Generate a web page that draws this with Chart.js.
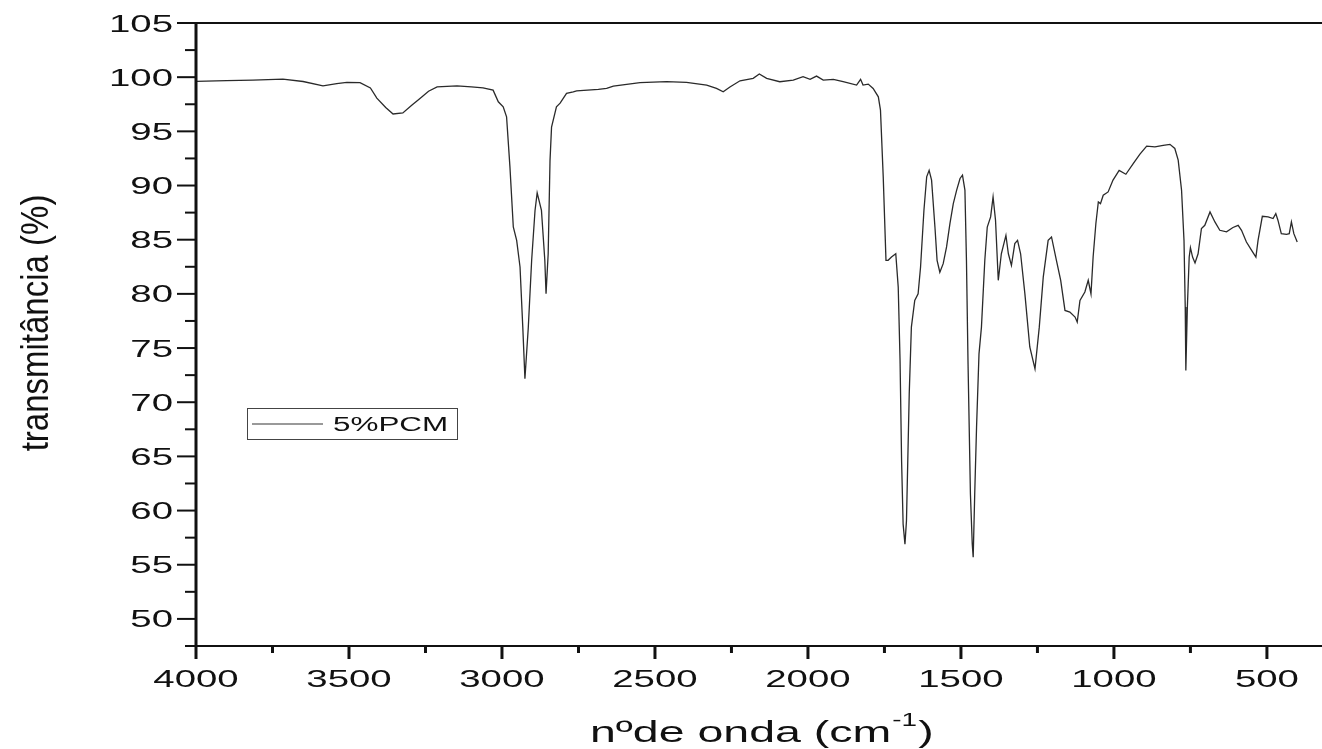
<!DOCTYPE html>
<html>
<head>
<meta charset="utf-8">
<script src="https://cdn.jsdelivr.net/npm/chart.js@4.4.1/dist/chart.umd.min.js"></script>
<style>
  html, body { margin: 0; padding: 0; background: #fff; }
  canvas { display: block; }
</style>
</head>
<body>
<canvas id="ir-chart" width="1322" height="749"></canvas>
<script>
// wavenumber (cm-1), high to low
const wavenumber = [
    4000, 3900, 3814, 3716, 3650, 3585, 3540, 3507, 3464, 3430, 3409, 3380, 3356, 3324, 3295, 3268,
    3240, 3212, 3147, 3100, 3062, 3029, 3012, 2996, 2985, 2974, 2963, 2952, 2941, 2932, 2925, 2914,
    2903, 2892, 2885, 2871, 2860, 2856, 2849, 2843, 2838, 2822, 2810, 2789, 2767, 2756, 2685, 2658,
    2636, 2549, 2462, 2397, 2331, 2299, 2277, 2255, 2222, 2179, 2159, 2135, 2092, 2048, 2016, 1993,
    1972, 1950, 1917, 1885, 1841, 1828, 1820, 1803, 1787, 1770, 1763, 1754, 1745, 1738, 1727, 1713,
    1705, 1699, 1694, 1689, 1683, 1678, 1669, 1662, 1651, 1640, 1632, 1621, 1612, 1604, 1596, 1585,
    1578, 1569, 1558, 1547, 1536, 1525, 1514, 1503, 1495, 1487, 1482, 1477, 1469, 1463, 1460, 1455,
    1449, 1441, 1433, 1422, 1414, 1403, 1395, 1387, 1378, 1368, 1353, 1345, 1335, 1324, 1315, 1305,
    1291, 1275, 1258, 1244, 1231, 1215, 1204, 1188, 1174, 1160, 1144, 1127, 1120, 1111, 1095, 1084,
    1075, 1068, 1059, 1051, 1044, 1035, 1019, 1003, 983, 961, 937, 915, 893, 866, 839, 817,
    801, 790, 779, 771, 767, 765, 760, 754, 750, 743, 735, 725, 714, 703, 686, 670,
    654, 632, 611, 594, 583, 567, 550, 536, 529, 515, 496, 480, 471, 464, 453, 436,
    427, 420, 412, 401
];

// transmittance (%) for each wavenumber above
const transmittance = [
    99.62, 99.68, 99.73, 99.82, 99.6, 99.2, 99.4, 99.52, 99.5, 99.0, 98.07, 97.2, 96.6, 96.7, 97.4, 98.04,
    98.7, 99.1, 99.2, 99.1, 99.02, 98.8, 97.73, 97.27, 96.34, 91.72, 86.17, 84.94, 82.48, 76.93, 72.16, 76.9,
    83.1, 87.7, 89.32, 87.7, 83.1, 80.02, 83.7, 92.3, 95.4, 97.27, 97.6, 98.5, 98.65, 98.74, 98.87, 98.96,
    99.18, 99.49, 99.58, 99.52, 99.27, 98.96, 98.65, 99.1, 99.67, 99.89, 100.29, 99.89, 99.58, 99.73, 100.04, 99.8,
    100.1, 99.73, 99.8, 99.58, 99.27, 99.8, 99.27, 99.36, 98.96, 98.19, 96.96, 90.8, 83.1, 83.1, 83.4, 83.7,
    80.63, 73.85, 64.6, 58.75, 56.9, 59.07, 70.78, 76.93, 79.4, 80.0, 82.48, 87.7, 90.8, 91.4, 90.5, 86.17,
    83.1, 82.0, 82.79, 84.33, 86.49, 88.33, 89.57, 90.65, 90.95, 89.57, 83.1, 73.85, 61.5, 56.9, 55.7, 61.5,
    67.7, 74.46, 76.93, 83.1, 86.17, 87.1, 88.95, 86.8, 81.25, 83.7, 85.4, 83.7, 82.63, 84.64, 84.94, 83.7,
    80.0, 75.1, 73.08, 76.93, 81.55, 84.94, 85.25, 83.1, 81.25, 78.47, 78.32, 77.86, 77.4, 79.4, 80.17, 81.25,
    80.0, 83.4, 86.49, 88.49, 88.33, 89.1, 89.41, 90.5, 91.4, 91.04, 92.03, 92.9, 93.63, 93.57, 93.7, 93.8,
    93.42, 92.34, 89.57, 84.94, 78.78, 72.93, 78.78, 83.4, 84.26, 83.4, 82.85, 83.7, 86.03, 86.33, 87.56, 86.64,
    85.87, 85.72, 86.13, 86.33, 85.87, 84.79, 84.02, 83.4, 84.94, 87.16, 87.1, 86.95, 87.41, 86.8, 85.56, 85.5,
    85.56, 86.64, 85.56, 84.79
];

const xMajorTicks = [4000, 3500, 3000, 2500, 2000, 1500, 1000, 500];
const xMinorTicks = [3750, 3250, 2750, 2250, 1750, 1250, 750];
const yMajorTicks = [50, 55, 60, 65, 70, 75, 80, 85, 90, 95, 100, 105];
const yMinorTicks = [47.5, 52.5, 57.5, 62.5, 67.5, 72.5, 77.5, 82.5, 87.5, 92.5, 97.5, 102.5];

const seriesName = '5%PCM';
const xTitle = 'nºde onda (cm';
const xTitleSup = '-1';
const yTitle = 'transmitância (%)';

const FONT = '"Liberation Sans", Arial, sans-serif';

// the reference text is drawn wide, so stretch it sideways
function wideText(ctx, text, x, y, size, k, align) {
    ctx.save();
    ctx.font = size + 'px ' + FONT;
    const w = ctx.measureText(text).width * k;
    let left = x;
    if (align === 'center') left = x - w / 2;
    if (align === 'right') left = x - w;
    ctx.translate(left, y);
    ctx.scale(k, 1);
    ctx.textAlign = 'left';
    ctx.textBaseline = 'alphabetic';
    ctx.fillText(text, 0, 0);
    ctx.restore();
    return w;
}

const frame = {
    id: 'frame',
    afterDraw(chart) {
        const ctx = chart.ctx;
        const xs = chart.scales.x;
        const ys = chart.scales.y;
        const a = chart.chartArea;
        const W = chart.width;

        ctx.save();
        ctx.strokeStyle = '#111';
        ctx.fillStyle = '#111';

        // axis lines
        ctx.lineWidth = 3;
        ctx.beginPath();
        ctx.moveTo(a.left, a.top - 1);
        ctx.lineTo(a.left, a.bottom + 1);
        ctx.stroke();
        ctx.lineWidth = 2;
        ctx.beginPath();
        ctx.moveTo(a.left, a.bottom);
        ctx.lineTo(W, a.bottom);
        ctx.moveTo(a.left, a.top);
        ctx.lineTo(W, a.top);
        ctx.stroke();

        // y ticks
        ctx.lineWidth = 2;
        yMajorTicks.forEach(v => {
            const py = ys.getPixelForValue(v);
            ctx.beginPath();
            ctx.moveTo(a.left - 19, py);
            ctx.lineTo(a.left, py);
            ctx.stroke();
            wideText(ctx, String(v), a.left - 23, py + 8.5, 24, 1.6, 'right');
        });
        yMinorTicks.forEach(v => {
            const py = ys.getPixelForValue(v);
            ctx.beginPath();
            ctx.moveTo(a.left - 11, py);
            ctx.lineTo(a.left, py);
            ctx.stroke();
        });

        // x ticks
        ctx.lineWidth = 3;
        xMajorTicks.forEach(v => {
            const px = xs.getPixelForValue(v);
            ctx.beginPath();
            ctx.moveTo(px, a.bottom);
            ctx.lineTo(px, a.bottom + 13);
            ctx.stroke();
            wideText(ctx, String(v), px, a.bottom + 41, 24, 1.6, 'center');
        });
        xMinorTicks.forEach(v => {
            const px = xs.getPixelForValue(v);
            ctx.beginPath();
            ctx.moveTo(px, a.bottom);
            ctx.lineTo(px, a.bottom + 7);
            ctx.stroke();
        });

        // x title with superscript
        let tx = 590;
        tx += wideText(ctx, xTitle, tx, 742, 30, 1.55, 'left');
        tx += wideText(ctx, xTitleSup, tx + 1, 726, 18, 1.55, 'left') + 2;
        wideText(ctx, ')', tx, 742, 30, 1.55, 'left');

        // y title, glyphs a bit taller across like the reference
        ctx.save();
        ctx.translate(48, 323);
        ctx.rotate(-Math.PI / 2);
        ctx.scale(1, 1.2);
        ctx.font = '33px ' + FONT;
        ctx.textAlign = 'center';
        ctx.textBaseline = 'alphabetic';
        ctx.fillText(yTitle, 0, 0);
        ctx.restore();

        // legend box
        ctx.lineWidth = 1;
        ctx.strokeStyle = '#444';
        ctx.strokeRect(247.5, 408.5, 210, 31);
        ctx.strokeStyle = '#777';
        ctx.lineWidth = 1.3;
        ctx.beginPath();
        ctx.moveTo(252, 424);
        ctx.lineTo(323, 424);
        ctx.stroke();
        wideText(ctx, seriesName, 333, 431, 20, 1.57, 'left');

        ctx.restore();
    }
};

document.addEventListener("DOMContentLoaded", function() {
    const points = wavenumber.map((w, i) => ({ x: w, y: transmittance[i] }));

    const ctx = document.getElementById('ir-chart').getContext('2d');
    new Chart(ctx, {
        type: 'line',
        data: {
            datasets: [{
                label: seriesName,
                data: points,
                borderColor: '#2a2a2a',
                borderWidth: 1.3,
                pointRadius: 0,
                tension: 0,
                fill: false
            }]
        },
        options: {
            responsive: false,
            animation: false,
            devicePixelRatio: 1,
            layout: {
                padding: { left: 196, top: 23, right: 0, bottom: 103 }
            },
            plugins: {
                legend: { display: false },
                tooltip: { enabled: false }
            },
            scales: {
                x: {
                    type: 'linear',
                    reverse: true,
                    min: 320,
                    max: 4000,
                    display: false
                },
                y: {
                    min: 47.5,
                    max: 105,
                    display: false
                }
            }
        },
        plugins: [frame]
    });
});
</script>
</body>
</html>
